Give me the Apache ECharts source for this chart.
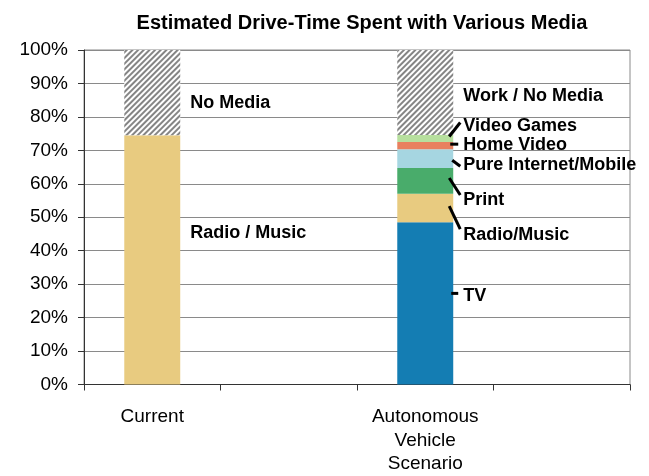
<!DOCTYPE html>
<html><head><meta charset="utf-8">
<script src="https://cdn.jsdelivr.net/npm/echarts@6/dist/echarts.min.js"></script>
<style>html,body{margin:0;padding:0;background:#fff}#c{width:649px;height:476px}</style>
</head><body><div id="c"></div>
<script>
// ---- data ----
const categories = ['Current', '', 'Autonomous\nVehicle\nScenario', ''];
const yMin = 0, yMax = 100, yStep = 10;
const tv             = ['-', '-', 48.5, '-'];
const radioMusic     = [74.5, '-', 8.5, '-'];
const print          = ['-', '-', 7.7, '-'];
const internetMobile = ['-', '-', 5.6, '-'];
const homeVideo      = ['-', '-', 2.2, '-'];
const videoGames     = ['-', '-', 2.1, '-'];
const noMedia        = [25.5, '-', 25.4, '-'];
const tvLabels       = [null, null, 'TV', null];
const radioLabels    = ['Radio / Music', null, 'Radio/Music', null];
const printLabels    = [null, null, 'Print', null];
const internetLabels = [null, null, 'Pure Internet/Mobile', null];
const homeLabels     = [null, null, 'Home Video', null];
const gamesLabels    = [null, null, 'Video Games', null];
const noMediaLabels  = ['No Media', null, 'Work / No Media', null];

// ---- style (label offsets / leader lines, px) ----
const FONT = 'Liberation Sans, Arial, sans-serif';
const BAR_FRAC = 0.41;
const styleDefs = [
  {data: tv, labels: tvLabels, color: '#147db3', dy: [0,0,-7,0], line: [-10,-10, -2, 5]},
  {data: radioMusic, labels: radioLabels, color: '#e8cb80', dy: [-26.5,0,26.5,0], line: [-2,21, -4, 7]},
  {data: print, labels: printLabels, color: '#49ac6b', dy: [0,0,19.5,0], line: [-3,14, -4, 7]},
  {data: internetMobile, labels: internetLabels, color: '#a6d6e1', dy: [0,0,6.5,0], line: [1.5,7.5, -1, 7]},
  {data: homeVideo, labels: homeLabels, color: '#e8805f', dy: [0,0,-1,0], line: [-1.5,-1.5, -3, 5]},
  {data: videoGames, labels: gamesLabels, color: '#b7df9e', dy: [0,0,-12.5,0], line: [-2,-16, -4, 7]},
  {data: noMedia, labels: noMediaLabels, color: '#ffffff', dy: [10,0,4,0], line: null, hatch: true}
];

const series = styleDefs.map((d, si) => ({
  type: 'bar', stack: 's', barWidth: (BAR_FRAC*100) + '%',
  itemStyle: d.hatch ? {color: '#ffffff', decal: {symbol: 'rect', symbolSize: 1, dashArrayX: [1, 0], dashArrayY: [2, 2], rotation: -Math.PI/4, color: '#858585'}} : {color: d.color},
  label: {position: 'right', distance: 10, fontSize: 18, fontWeight: 'bold', color: '#000', fontFamily: FONT},
  emphasis: {disabled: true},
  data: d.data.map((v, i) => ({
    value: v,
    label: d.labels[i] ? {show: true, formatter: d.labels[i], offset: [0, d.dy[i]]} : {show: false}
  }))
}));

const chart = echarts.init(document.getElementById('c'), null, {renderer: 'canvas'});
chart.setOption({
  animation: false,
  backgroundColor: '#fff',
  title: {text: 'Estimated Drive-Time Spent with Various Media', left: 357, textAlign: 'center', top: 8,
    textStyle: {fontSize: 20, fontWeight: 'bold', color: '#000', fontFamily: FONT}},
  grid: {left: 84, right: 19, top: 50, bottom: 89, show: true, borderColor: '#8a8a8a', borderWidth: 1},
  xAxis: {type: 'category', data: categories,
    axisLine: {lineStyle: {color: '#333', width: 1}},
    axisTick: {show: true, length: 6, alignWithLabel: false, lineStyle: {color: '#333'}},
    axisLabel: {interval: 0, fontSize: 19, color: '#000', fontFamily: FONT, lineHeight: 23.5, margin: 21}
  },
  yAxis: {type: 'value', min: yMin, max: yMax, interval: yStep,
    axisLine: {show: true, lineStyle: {color: '#333', width: 1}},
    axisTick: {show: true, length: 6, lineStyle: {color: '#333'}},
    splitLine: {lineStyle: {color: '#8a8a8a', width: 1}},
    axisLabel: {formatter: '{value}%', fontSize: 19, color: '#000', fontFamily: FONT, margin: 16}
  },
  series: series
});

// leader lines computed from data through the chart's scales
const lines = [];
const ci = 2;
const xc = chart.convertToPixel({xAxisIndex: 0}, ci);
const band = chart.convertToPixel({xAxisIndex: 0}, 1) - chart.convertToPixel({xAxisIndex: 0}, 0);
const barRight = xc + band * BAR_FRAC / 2;
let base = 0;
styleDefs.forEach(d => {
  const v = d.data[ci];
  if (typeof v === 'number') {
    const yc = chart.convertToPixel({yAxisIndex: 0}, base + v / 2);
    if (d.line) {
      lines.push({type: 'line', silent: true, z: 10,
        shape: {x1: barRight + d.line[2], y1: yc + d.line[0], x2: barRight + d.line[3], y2: yc + d.line[1]},
        style: {stroke: '#000', lineWidth: 3}});
    }
    base += v;
  }
});
chart.setOption({graphic: lines});
</script>
</body></html>
